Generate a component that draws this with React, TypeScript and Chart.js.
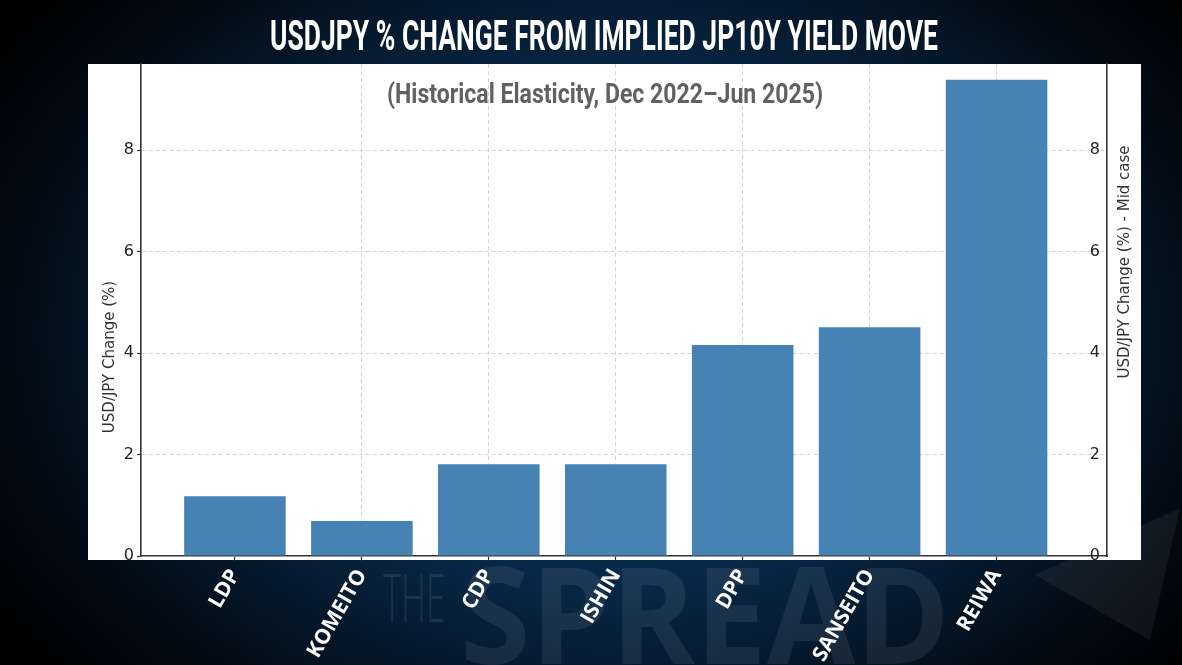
import React, { useEffect, useRef } from 'react';
import Chart from 'chart.js/auto';

// values
const parties = ['LDP', 'KOMEITO', 'CDP', 'ISHIN', 'DPP', 'SANSEITO', 'REIWA'];
const usdJpyChange = [1.18, 0.69, 1.81, 1.81, 4.16, 4.51, 9.39];
const yTicks = [0, 2, 4, 6, 8];
const yMax = 9.7;

const titleText = 'USDJPY % CHANGE FROM IMPLIED JP10Y YIELD MOVE';
const subtitleText = '(Historical Elasticity, Dec 2022\u2013Jun 2025)';
const leftAxisLabel = 'USD/JPY Change (%)';
const rightAxisLabel = 'USD/JPY Change (%) - Mid case';

const W = 1182;
const H = 665;

// draw text squeezed horizontally to a given width (condensed look)
function fittedText(ctx: CanvasRenderingContext2D, text: string, cx: number, y: number, font: string, width: number, color: string) {
    ctx.save();
    ctx.font = font;
    const w = ctx.measureText(text).width;
    ctx.translate(cx, y);
    ctx.scale(width / w, 1);
    ctx.fillStyle = color;
    ctx.textAlign = 'center';
    ctx.textBaseline = 'alphabetic';
    ctx.fillText(text, 0, 0);
    ctx.restore();
}

function verticalText(ctx: CanvasRenderingContext2D, text: string, x: number, cy: number) {
    ctx.save();
    ctx.translate(x, cy);
    ctx.rotate(-Math.PI / 2);
    ctx.font = '15px "DejaVu Sans"';
    ctx.fillStyle = '#333';
    ctx.textAlign = 'center';
    ctx.textBaseline = 'middle';
    ctx.fillText(text, 0, 0);
    ctx.restore();
}

const decorPlugin = {
    id: 'decor',
    beforeDraw(chart: any) {
        const { ctx, chartArea } = chart;
        // faint watermark behind everything
        fittedText(ctx, 'THE', 414, 622, '300 66px "Open Sans"', 62, 'rgba(255,255,255,0.09)');
        fittedText(ctx, 'SPREAD', 705, 664, 'bold 135px "Open Sans"', 490, 'rgba(255,255,255,0.08)');

        // faint triangle bottom right
        ctx.save();
        ctx.fillStyle = 'rgba(255,255,255,0.06)';
        ctx.beginPath();
        ctx.moveTo(1035, 575);
        ctx.lineTo(1180, 508);
        ctx.lineTo(1150, 640);
        ctx.closePath();
        ctx.fill();
        ctx.restore();

        // white figure card
        ctx.save();
        ctx.fillStyle = '#ffffff';
        ctx.fillRect(chartArea.left - 53, chartArea.top, chartArea.right - chartArea.left + 53 + 34, chartArea.bottom - chartArea.top + 4);
        ctx.restore();
    },
    afterDraw(chart: any) {
        const { ctx, chartArea } = chart;
        fittedText(ctx, titleText, 604, 50, 'bold 42px Roboto', 668, '#ffffff');
        fittedText(ctx, subtitleText, 605, 103, 'bold 28px Roboto', 436, '#616161');
        verticalText(ctx, leftAxisLabel, chartArea.left - 31, 357);
        verticalText(ctx, rightAxisLabel, chartArea.right + 18, 262);
    },
};

const gridColor = (c: any) => (c.tick && c.tick.value === 0 ? 'rgba(0,0,0,0)' : 'rgba(160,160,160,0.45)');

const App: React.FC = () => {
    const canvasRef = useRef<HTMLCanvasElement>(null);

    useEffect(() => {
        document.body.style.margin = '0';
        const canvas = canvasRef.current;
        if (!canvas) return;
        const chart = new Chart(canvas, {
            type: 'bar',
            data: {
                datasets: [
                    {
                        data: parties.map((_, i) => ({ x: i, y: usdJpyChange[i] })),
                        backgroundColor: '#4682b4',
                        borderWidth: 0,
                        barPercentage: 0.8,
                        categoryPercentage: 1,
                        yAxisID: 'y',
                    },
                ],
            },
            options: {
                responsive: false,
                animation: false,
                layout: { padding: { top: 64, left: 0, right: 0, bottom: 0 } },
                plugins: {
                    legend: { display: false },
                    tooltip: { enabled: false },
                },
                scales: {
                    x: {
                        type: 'linear',
                        min: -0.74,
                        max: 6.87,
                        offset: false,
                        z: 1,
                        afterBuildTicks: (s: any) => {
                            s.ticks = parties.map((_, i) => ({ value: i }));
                        },
                        afterFit: (s: any) => {
                            s.height = 109;
                        },
                        ticks: {
                            autoSkip: false,
                            minRotation: 60,
                            maxRotation: 60,
                            padding: 4,
                            color: '#ffffff',
                            font: { family: '"Open Sans"', weight: 'bold', size: 21 },
                            callback: (v: any) => parties[v],
                        },
                        grid: { offset: false, color: gridColor, tickLength: 5, tickColor: '#333', tickWidth: 1.2 },
                        border: { color: '#333', width: 1.6, dash: [4, 3] },
                    },
                    y: {
                        position: 'left',
                        min: 0,
                        max: yMax,
                        z: 1,
                        afterBuildTicks: (s: any) => {
                            s.ticks = yTicks.map((v) => ({ value: v }));
                        },
                        afterFit: (s: any) => {
                            s.width = 141;
                        },
                        ticks: { color: '#222', padding: 3, font: { family: '"DejaVu Sans"', size: 16 } },
                        grid: { color: gridColor, tickLength: 4, tickColor: '#333', tickWidth: 1.2 },
                        border: { color: '#333', width: 1.6, dash: [4, 3] },
                    },
                    y2: {
                        position: 'right',
                        min: 0,
                        max: yMax,
                        z: 1,
                        afterBuildTicks: (s: any) => {
                            s.ticks = yTicks.map((v) => ({ value: v }));
                        },
                        afterFit: (s: any) => {
                            s.width = 75;
                        },
                        ticks: { mirror: true, color: '#222', padding: -7, font: { family: '"DejaVu Sans"', size: 16 } },
                        grid: { drawOnChartArea: false, drawTicks: false },
                        border: { color: '#333', width: 1.6 },
                    },
                },
            },
            plugins: [decorPlugin],
        });
        return () => {
            chart.destroy();
        };
    }, []);

    return (
        <div
            style={{
                position: 'fixed',
                left: 0,
                top: 0,
                width: W,
                height: H,
                background: 'radial-gradient(ellipse 62% 80% at 52% 50%, #0c3c66 0%, #08294a 45%, #030d18 80%, #000000 100%)',
            }}
        >
            <canvas ref={canvasRef} width={W} height={H} />
        </div>
    );
};

export default App;
